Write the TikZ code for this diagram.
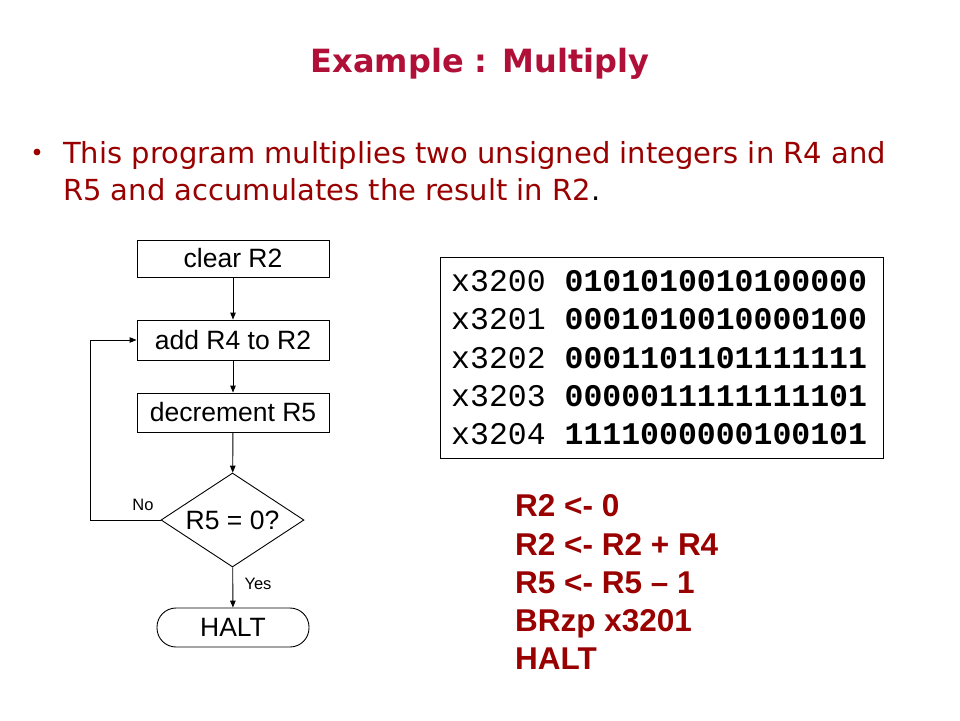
\documentclass[tikz,border=0pt]{standalone}
\usepackage{fontspec}
\setmainfont{DejaVu Sans}
\newfontfamily\arialf{Liberation Sans}
\newfontfamily\monof{Liberation Mono}
\usetikzlibrary{shapes.geometric,arrows.meta}
\definecolor{titlered}{RGB}{176,16,56}
\definecolor{bodyred}{RGB}{153,0,0}
\tikzset{
  flowbox/.style={draw,line width=0.9pt,minimum width=192pt,inner sep=0pt,font=\arialf\fontsize{26.5}{29}\selectfont},
  flowarrow/.style={line width=0.9pt,-{Triangle[length=7pt,width=5.5pt]}},
  smalllabel/.style={inner sep=0pt,font=\arialf\fontsize{16.5}{18}\selectfont},
  codeline/.style={anchor=base west,inner sep=0pt,font=\monof\fontsize{31.5}{34}\selectfont},
  asmline/.style={anchor=base west,inner sep=0pt,text=bodyred,font=\arialf\bfseries\fontsize{31.5}{34}\selectfont},
  bodyline/.style={anchor=base west,inner sep=0pt,text=bodyred,font=\fontsize{29}{31}\selectfont}
}
\begin{document}
\begin{tikzpicture}[x=1pt,y=-1pt]
\useasboundingbox[fill=white] (0,0) rectangle (960,720);
% title
\node[anchor=base,inner sep=0pt,text=titlered,font=\bfseries\fontsize{32}{36}\selectfont] (title) at (480,72) {Example : Multiply};
% bullet
\fill[bodyred] (37,152) circle (3.4pt);
\node[bodyline] (b1) at (63,163) {This program multiplies two unsigned integers in R4 and};
\node[bodyline] (b2) at (63,200) {R5 and accumulates the result in R2\textcolor{black}{.}};
% flowchart
\node[flowbox,minimum height=37pt] (clear) at (233,258.5) {clear R2};
\node[flowbox,minimum height=40pt] (add) at (233,340) {add R4 to R2};
\node[flowbox,minimum height=39pt] (dec) at (233,412.5) {decrement R5};
\node[draw,diamond,line width=0.9pt,aspect=1.52,minimum width=143pt,minimum height=94pt,inner sep=0pt,font=\arialf\fontsize{26.5}{29}\selectfont] (test) at (232.5,520) {R5 = 0?};
\node[draw,line width=0.9pt,rounded corners=19pt,minimum width=152pt,minimum height=39pt,inner sep=0pt,font=\arialf\fontsize{26.5}{29}\selectfont] (halt) at (233,627.5) {HALT};
\coordinate (loop) at (90,520);
\draw[flowarrow] (clear) -- (add);
\draw[flowarrow] (add) -- (dec);
\draw[flowarrow] (dec) -- (test);
\draw[flowarrow] (test) -- (halt);
\draw[flowarrow] (test.west) -- (loop) |- (add.west);
\node[smalllabel] (no) at (143,505) {No};
\node[smalllabel] (yes) at (258,584) {Yes};
% code box
\draw[line width=0.9pt] (440,257) rectangle (883,458);
\node[codeline] (c1) at (451,291.5) {x3200 \textbf{0101010010100000}};
\node[codeline] (c2) at (451,329.8) {x3201 \textbf{0001010010000100}};
\node[codeline] (c3) at (451,368) {x3202 \textbf{0001101101111111}};
\node[codeline] (c4) at (451,406.3) {x3203 \textbf{0000011111111101}};
\node[codeline] (c5) at (451,444.6) {x3204 \textbf{1111000000100101}};
% assembly
\node[asmline] (a1) at (515,516.7) {R2 <- 0};
\node[asmline] (a2) at (515,555) {R2 <- R2 + R4};
\node[asmline] (a3) at (515,593) {R5 <- R5 – 1};
\node[asmline] (a4) at (515,631.5) {BRzp x3201};
\node[asmline] (a5) at (515,669.5) {HALT};
\end{tikzpicture}
\end{document}
